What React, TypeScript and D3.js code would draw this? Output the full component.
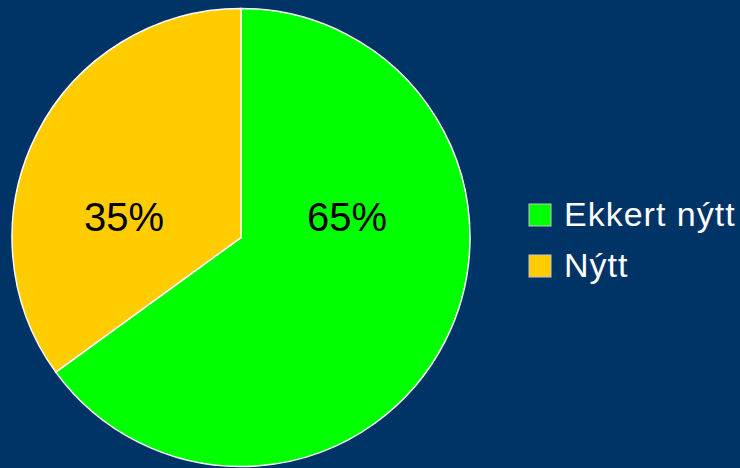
import * as d3 from 'd3'
import { useRef, useEffect } from 'react'

const categories = ['Ekkert nýtt', 'Nýtt']
const values = [65, 35]
const colors = ['#00ff00', '#ffcc00']
const pctLabels = ['65%', '35%']

export default function App() {
    const svgRef = useRef<SVGSVGElement>(null);

    useEffect(() => {
        const width = 740;
        const height = 468;
        const svg = d3.select(svgRef.current)
            .attr('width', width)
            .attr('height', height);
        svg.selectAll('*').remove();

        svg.append('rect')
            .attr('width', width)
            .attr('height', height)
            .attr('fill', '#003366');

        const cx = 241;
        const cy = 237.5;
        const radius = 229;

        const pie = d3.pie<number>().sort(null).value(d => d);
        const arc = d3.arc<d3.PieArcDatum<number>>().innerRadius(0).outerRadius(radius);
        const arcs = pie(values);

        const gPie = svg.append('g')
            .attr('transform', `translate(${cx}, ${cy})`);

        gPie.selectAll('.slice')
            .data(arcs)
            .join('path')
            .attr('class', 'slice')
            .attr('d', arc)
            .attr('fill', (d, i) => colors[i])
            .attr('stroke', '#ffffff')
            .attr('stroke-width', 1.5);

        // labels sit roughly level with the centre, like the office chart
        const labelPos = [[106, -7], [-117, -7]];
        gPie.selectAll('.pct')
            .data(arcs)
            .join('text')
            .attr('class', 'pct')
            .attr('x', (d, i) => labelPos[i][0])
            .attr('y', (d, i) => labelPos[i][1])
            .attr('text-anchor', 'middle')
            .attr('font-family', 'Liberation Sans, Arial, sans-serif')
            .attr('font-size', 40)
            .attr('fill', '#000000')
            .text((d, i) => pctLabels[i]);

        const gLegend = svg.append('g')
            .attr('transform', 'translate(529, 204)');
        const items = gLegend.selectAll('.legend-item')
            .data(categories)
            .join('g')
            .attr('class', 'legend-item')
            .attr('transform', (d, i) => `translate(0, ${i * 51})`);
        items.append('rect')
            .attr('width', 22)
            .attr('height', 22)
            .attr('fill', (d, i) => colors[i])
            .attr('stroke', '#c8c8c8')
            .attr('stroke-width', 1);
        items.append('text')
            .attr('x', 35)
            .attr('y', 22)
            .attr('font-family', 'Liberation Sans, Arial, sans-serif')
            .attr('font-size', 34)
            .attr('letter-spacing', 1)
            .attr('fill', '#ffffff')
            .text(d => d);
    }, []);

    return (
        <svg ref={svgRef} style={{ position: 'absolute', left: 0, top: 0, display: 'block' }}></svg>
    )
}
